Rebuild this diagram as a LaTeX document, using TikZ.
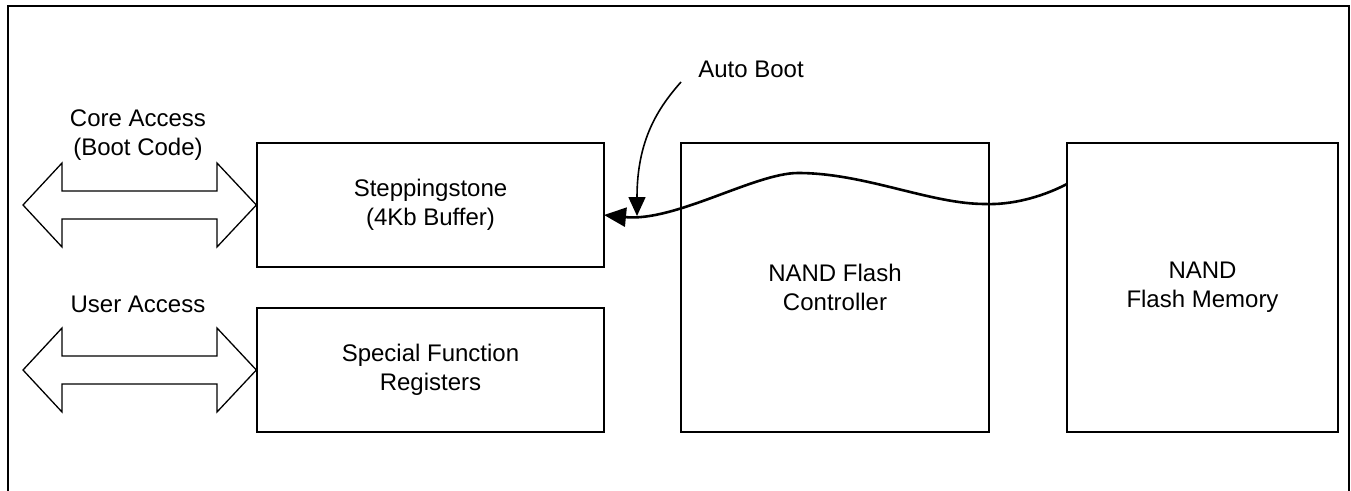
\documentclass[tikz,border=0pt]{standalone}
\usepackage{fontspec}
\setmainfont{Liberation Sans}
\usetikzlibrary{arrows.meta}
\tikzset{
  blk/.style={draw, line width=1.3pt, inner sep=0pt, align=center, font=\fontsize{24}{29}\selectfont},
  lbl/.style={inner sep=0pt, align=center, font=\fontsize{24}{29}\selectfont},
  bus/.style={draw, line width=1.3pt, line join=miter, fill=white},
  frame/.style={line width=2pt},
  flow/.style={line width=2.6pt, -{Triangle[length=22pt,width=19pt]}},
  boot/.style={line width=1.6pt, -{Triangle[length=19pt,width=17pt]}}
}
\begin{document}
\begin{tikzpicture}[x=1pt,y=-1pt]
\useasboundingbox (0,0) rectangle (1351,490);
% outer frame (open at the bottom)
\draw[frame] (7.5,495) -- (7.5,6) -- (1349.3,6) -- (1349.3,495);
% blocks
\node[blk, minimum width=347, minimum height=124] (ss) at (430.5,205) {Steppingstone\\(4Kb Buffer)};
\node[blk, minimum width=347, minimum height=124] (sfr) at (430.5,370) {Special Function\\Registers};
\node[blk, minimum width=308, minimum height=289] (nfc) at (835,287.5) {NAND Flash\\Controller};
\node[blk, minimum width=271, minimum height=289] (mem) at (1202.5,287.5) {NAND\\Flash Memory};
% labels
\node[lbl] (core) at (138,135) {Core Access\\(Boot Code)};
\node[lbl] (user) at (138,304) {User Access};
\node[lbl] (ab) at (751,69) {Auto Boot};
% double-headed bus arrows
\draw[bus] (23,205) -- (62,163) -- (62,191) -- (217,191) -- (217,163) -- (ss.west)
  -- (217,247) -- (217,219) -- (62,219) -- (62,247) -- cycle;
\draw[bus] (23,370) -- (62,328) -- (62,356) -- (217,356) -- (217,328) -- (sfr.west)
  -- (217,412) -- (217,384) -- (62,384) -- (62,412) -- cycle;
% auto boot transfer
\coordinate (src) at (1067,184);
\coordinate (dst) at (604,215);
\draw[flow] (src) .. controls (1040,198) and (1010,205) .. (985,204)
  .. controls (930,204) and (865,173) .. (798,173)
  .. controls (755,173) and (675,222) .. (dst);
\coordinate (abs) at (681,82);
\coordinate (abt) at (637,216);
\draw[boot] (abs) .. controls (658,108) and (637,140) .. (abt);
\end{tikzpicture}
\end{document}
